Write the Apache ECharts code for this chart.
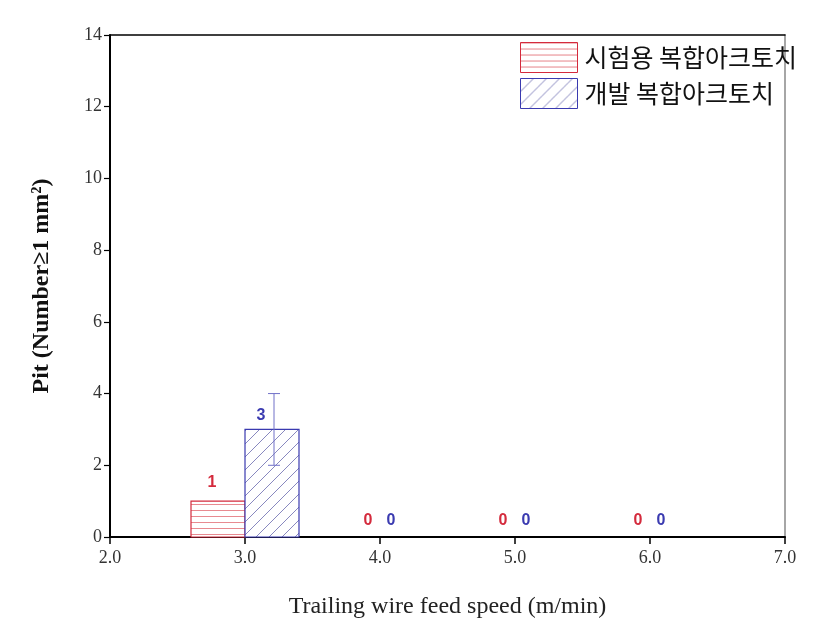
<!DOCTYPE html>
<html><head><meta charset="utf-8">
<script src="https://cdn.jsdelivr.net/npm/echarts@6/dist/echarts.min.js"></script>
<style>html,body{margin:0;padding:0;background:#fff}#c{width:826px;height:641px}</style>
</head><body><div id="c"></div>
<script>
// ---- data ----
const speeds = [3.0, 4.0, 5.0, 6.0];
const trialValues = [1, 0, 0, 0];   // 시험용 복합아크토치
const devValues = [3, 0, 0, 0];     // 개발 복합아크토치
const devErrors = [1, 0, 0, 0];
const seriesNames = ['시험용 복합아크토치', '개발 복합아크토치'];
const xTickLabels = ['2.0', '3.0', '4.0', '5.0', '6.0', '7.0'];
const yTickLabels = ['0', '2', '4', '6', '8', '10', '12', '14'];

// ---- styling ----
const BAR_UNITS = 0.4;
const RED = '#d42a3c', BLUE = '#3a3ab0';

function makePattern(kind) {
  const c = document.createElement('canvas');
  if (kind === 'h') {
    c.width = 8; c.height = 6;
    const g = c.getContext('2d');
    g.fillStyle = '#fff'; g.fillRect(0, 0, 8, 6);
    g.strokeStyle = '#e88a90'; g.lineWidth = 1;
    g.beginPath(); g.moveTo(0, 0.5); g.lineTo(8, 0.5); g.stroke();
  } else {
    c.width = 13; c.height = 13;
    const g = c.getContext('2d');
    g.fillStyle = '#fff'; g.fillRect(0, 0, 13, 13);
    g.strokeStyle = '#7a7ab8'; g.lineWidth = 0.9;
    g.beginPath();
    g.moveTo(0, 13); g.lineTo(13, 0);
    g.moveTo(-6.5, 6.5); g.lineTo(6.5, -6.5);
    g.moveTo(6.5, 19.5); g.lineTo(19.5, 6.5);
    g.stroke();
  }
  return { image: c, repeat: 'repeat' };
}
const redPat = makePattern('h');
const bluePat = makePattern('d');

const chart = echarts.init(document.getElementById('c'), null, { renderer: 'canvas' });

function barSeries(name, values, side, pattern, stroke, labelColor, errors) {
  return {
    name: name,
    type: 'custom',
    itemStyle: { color: pattern, borderColor: stroke, borderWidth: 1 },
    data: speeds.map((s, i) => [s, values[i], errors ? errors[i] : 0]),
    renderItem: function (params, api) {
      const s = api.value(0), v = api.value(1), e = api.value(2);
      const x0 = side < 0 ? s - BAR_UNITS : s;
      const x1 = side < 0 ? s : s + BAR_UNITS;
      const p0 = api.coord([x0, 0]);
      const p1 = api.coord([x1, v]);
      const children = [];
      if (v > 0) {
        children.push({
          type: 'rect',
          shape: { x: p0[0], y: p1[1], width: p1[0] - p0[0], height: p0[1] - p1[1] },
          style: { fill: pattern, stroke: stroke, lineWidth: 1.2 }
        });
      }
      if (e > 0) {
        const cx = (p0[0] + p1[0]) / 2 + 2;
        const top = api.coord([s, v + e])[1];
        const bot = api.coord([s, v - e])[1];
        const st = { stroke: '#7070c8', lineWidth: 1 };
        children.push({ type: 'line', shape: { x1: cx, y1: top, x2: cx, y2: bot }, style: st });
        children.push({ type: 'line', shape: { x1: cx - 6, y1: top, x2: cx + 6, y2: top }, style: st });
        children.push({ type: 'line', shape: { x1: cx - 6, y1: bot, x2: cx + 6, y2: bot }, style: st });
      }
      let lx, ly;
      const tick = api.coord([s, 0]);
      if (v > 0) {
        lx = (p0[0] + p1[0]) / 2 - (side < 0 ? 6 : 11);
        ly = p1[1] - (side < 0 ? 19 : 14);
      } else {
        lx = tick[0] + (side < 0 ? -12 : 11);
        ly = tick[1] - 16;
      }
      children.push({
        type: 'text',
        style: {
          text: String(v), x: lx, y: ly, align: 'center', verticalAlign: 'middle',
          fill: labelColor, font: 'bold 16px "Liberation Sans", Arial, sans-serif'
        }
      });
      return { type: 'group', children: children };
    }
  };
}

chart.setOption({
  animation: false,
  backgroundColor: '#fff',
  grid: { left: 110, right: 41, top: 35, bottom: 104 },
  legend: {
    left: 515, top: 37, orient: 'vertical', itemWidth: 57, itemHeight: 30, itemGap: 5,
    data: [
      { name: seriesNames[0], icon: 'rect', itemStyle: { color: redPat, borderColor: RED, borderWidth: 1 } },
      { name: seriesNames[1], icon: 'rect', itemStyle: { color: bluePat, borderColor: BLUE, borderWidth: 1 } }
    ],
    textStyle: { fontFamily: '"Noto Sans CJK KR", sans-serif', fontSize: 25, color: '#111', padding: [0, 0, 0, 2] }
  },
  xAxis: [{
    type: 'value', min: 2, max: 7, interval: 1,
    name: 'Trailing wire feed speed (m/min)', nameLocation: 'middle', nameGap: 58,
    nameTextStyle: { fontFamily: '"Liberation Serif", serif', fontSize: 24, color: '#222' },
    axisLine: { show: true, onZero: false, lineStyle: { color: '#000', width: 2 } },
    axisTick: { show: true, inside: false, length: 7, lineStyle: { color: '#000', width: 1.5 } },
    axisLabel: {
      margin: 12, fontFamily: '"Liberation Serif", serif', fontSize: 18, color: '#333',
      formatter: v => xTickLabels[Math.round(v - 2)]
    },
    splitLine: { show: false }
  }, {
    type: 'value', min: 2, max: 7, position: 'top',
    axisLine: { show: true, onZero: false, lineStyle: { color: '#000', width: 1.5 } },
    axisTick: { show: false }, axisLabel: { show: false }, splitLine: { show: false }
  }],
  yAxis: [{
    type: 'value', min: 0, max: 14, interval: 2,
    name: 'Pit (Number≥1 mm²)', nameLocation: 'middle', nameGap: 56,
    nameTextStyle: { fontFamily: '"Liberation Serif", serif', fontSize: 24, fontWeight: 'bold', color: '#111' },
    axisLine: { show: true, onZero: false, lineStyle: { color: '#000', width: 2 } },
    axisTick: { show: true, inside: false, length: 6, lineStyle: { color: '#000', width: 1.2 } },
    axisLabel: {
      margin: 8, fontFamily: '"Liberation Serif", serif', fontSize: 18, color: '#333',
      formatter: v => yTickLabels[Math.round(v / 2)]
    },
    splitLine: { show: false }
  }, {
    type: 'value', min: 0, max: 14, position: 'right',
    axisLine: { show: true, onZero: false, lineStyle: { color: '#888', width: 1.5 } },
    axisTick: { show: false }, axisLabel: { show: false }, splitLine: { show: false }
  }],
  series: [
    barSeries(seriesNames[0], trialValues, -1, redPat, RED, RED, null),
    barSeries(seriesNames[1], devValues, 1, bluePat, BLUE, BLUE, devErrors)
  ]
});
</script></body></html>
